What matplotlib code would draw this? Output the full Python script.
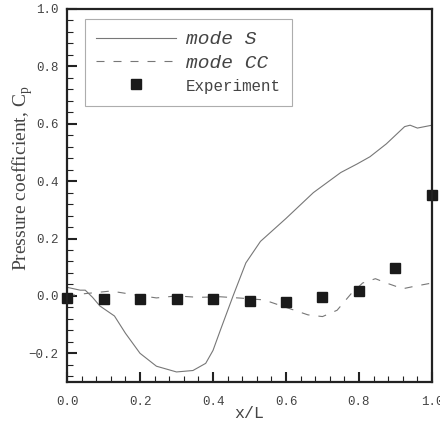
import matplotlib.pyplot as plt
from matplotlib.ticker import MultipleLocator

# mode S (solid line)
s_x = [0.0, 0.036, 0.05, 0.07, 0.09, 0.13, 0.16, 0.20, 0.245, 0.30, 0.345, 0.38, 0.40, 0.42,
       0.455, 0.49, 0.53, 0.60, 0.675, 0.75, 0.795, 0.83, 0.875, 0.925, 0.94, 0.96, 1.0]
s_y = [0.03, 0.02, 0.02, -0.005, -0.035, -0.07, -0.13, -0.20, -0.245, -0.265, -0.26, -0.235,
       -0.19, -0.12, 0.0, 0.115, 0.19, 0.27, 0.36, 0.43, 0.46, 0.485, 0.53, 0.59, 0.595,
       0.585, 0.595]

# mode CC (dashed line)
cc_x = [0.0, 0.05, 0.12, 0.18, 0.245, 0.30, 0.36, 0.42, 0.48, 0.54, 0.60, 0.66, 0.70, 0.74,
        0.78, 0.81, 0.845, 0.875, 0.92, 0.95, 1.0]
cc_y = [0.0, 0.008, 0.017, 0.005, -0.007, 0.0, -0.005, -0.003, -0.008, -0.014, -0.04, -0.066,
        -0.072, -0.05, 0.01, 0.045, 0.06, 0.045, 0.025, 0.033, 0.045]

# experiment
exp_x = [0.0, 0.1, 0.2, 0.3, 0.4, 0.5, 0.6, 0.7, 0.8, 0.9, 1.0]
exp_y = [-0.008, -0.01, -0.01, -0.01, -0.01, -0.017, -0.022, -0.003, 0.018, 0.098, 0.35]

mono = 'Liberation Mono'
serif = 'Liberation Serif'
ink = '#222222'

fig = plt.figure(figsize=(4.4, 4.28), dpi=100)
ax = fig.add_axes([0.1523, 0.1075, 0.8295, 0.8715])

ax.plot(s_x, s_y, color='#777777', linewidth=0.8, label='mode S')
ax.plot(cc_x, cc_y, color='#777777', linewidth=0.8, dashes=(7.2, 8.1), label='mode CC')
ax.plot(exp_x, exp_y, linestyle='none', marker='s', markersize=6.5, color='#1a1a1a',
        clip_on=False, label='Experiment')

ax.set_xlim(0, 1.0)
ax.set_ylim(-0.3, 1.0)
ax.xaxis.set_major_locator(MultipleLocator(0.2))
ax.xaxis.set_minor_locator(MultipleLocator(0.04))
ax.yaxis.set_major_locator(MultipleLocator(0.2))
ax.yaxis.set_minor_locator(MultipleLocator(0.04))
ax.tick_params(which='both', direction='in', color=ink, top=False, right=False)
ax.tick_params(which='major', length=7, width=1.5)
ax.tick_params(which='minor', length=4, width=0.8)
ax.tick_params(axis='x', pad=10)
ax.tick_params(axis='y', pad=6)
for sp in ax.spines.values():
    sp.set_linewidth(1.6)
    sp.set_color(ink)

for lab in ax.get_xticklabels() + ax.get_yticklabels():
    lab.set_fontfamily(mono)
    lab.set_fontsize(9)
    lab.set_color('#444444')

ax.set_xlabel('x/L', fontfamily=mono, fontsize=12, color='#444444', labelpad=-1)
ax.set_ylabel('Pressure coefficient, C$_\\mathregular{p}$', fontfamily=serif, fontsize=14,
              color='#444444')
ax.yaxis.set_label_coords(-0.089, 0.547)

leg = ax.legend(loc='upper left', bbox_to_anchor=(0.048, 0.973), borderaxespad=0,
                frameon=True, fancybox=False, edgecolor='#999999', handlelength=4.1,
                handletextpad=0.5, borderpad=0.6, labelspacing=0.3,
                prop={'family': mono, 'size': 14, 'style': 'italic'})
leg.get_frame().set_linewidth(0.8)
leg.get_texts()[2].set_fontstyle('normal')
leg.get_texts()[2].set_fontsize(11.4)
for t in leg.get_texts():
    t.set_color('#444444')

fig.savefig('out.png', dpi=100)
